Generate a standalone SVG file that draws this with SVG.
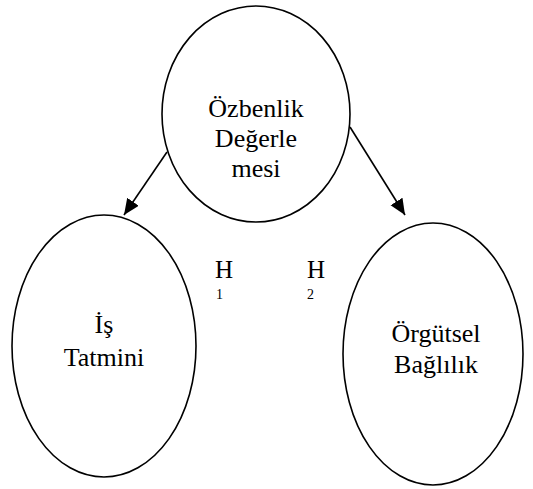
<svg xmlns="http://www.w3.org/2000/svg" width="533" height="489" viewBox="0 0 533 489">
<style>
.n{fill:none;stroke:#000;stroke-width:1.6}
.t{font-family:"Liberation Serif","Times New Roman",serif;font-size:26px;fill:#000;text-anchor:middle}
.h{font-family:"Liberation Serif","Times New Roman",serif;font-size:25px;fill:#000}
.s{font-family:"Liberation Serif","Times New Roman",serif;font-size:14px;fill:#000}
.c{stroke:#000;stroke-width:1.6;fill:none}
</style>
<defs>
<marker id="ah" markerUnits="userSpaceOnUse" markerWidth="17" markerHeight="15" refX="16" refY="7" orient="auto">
<path d="M0,0 L16,7 L0,14 z" fill="#000"/>
</marker>
</defs>
<rect width="533" height="489" fill="#fff"/>
<g id="connectors">
<line class="c" x1="167" y1="152" x2="124" y2="215" marker-end="url(#ah)"/>
<line class="c" x1="350" y1="127" x2="405" y2="215" marker-end="url(#ah)"/>
</g>
<g id="ozbenlik">
<ellipse class="n" cx="256" cy="114" rx="94" ry="108"/>
<text class="t" x="256" y="117">Özbenlik</text>
<text class="t" x="256" y="147">Değerle</text>
<text class="t" x="256" y="177">mesi</text>
</g>
<g id="is-tatmini">
<ellipse class="n" cx="104" cy="346" rx="92" ry="131"/>
<text class="t" x="104" y="333">İş</text>
<text class="t" x="104" y="366">Tatmini</text>
</g>
<g id="orgutsel">
<ellipse class="n" cx="433" cy="354" rx="90" ry="131"/>
<text class="t" x="436" y="342">Örgütsel</text>
<text class="t" x="436" y="373">Bağlılık</text>
</g>
<g id="labels">
<text class="h" x="215" y="278">H</text>
<text class="s" x="216" y="299">1</text>
<text class="h" x="307" y="278">H</text>
<text class="s" x="307" y="299">2</text>
</g>
</svg>
